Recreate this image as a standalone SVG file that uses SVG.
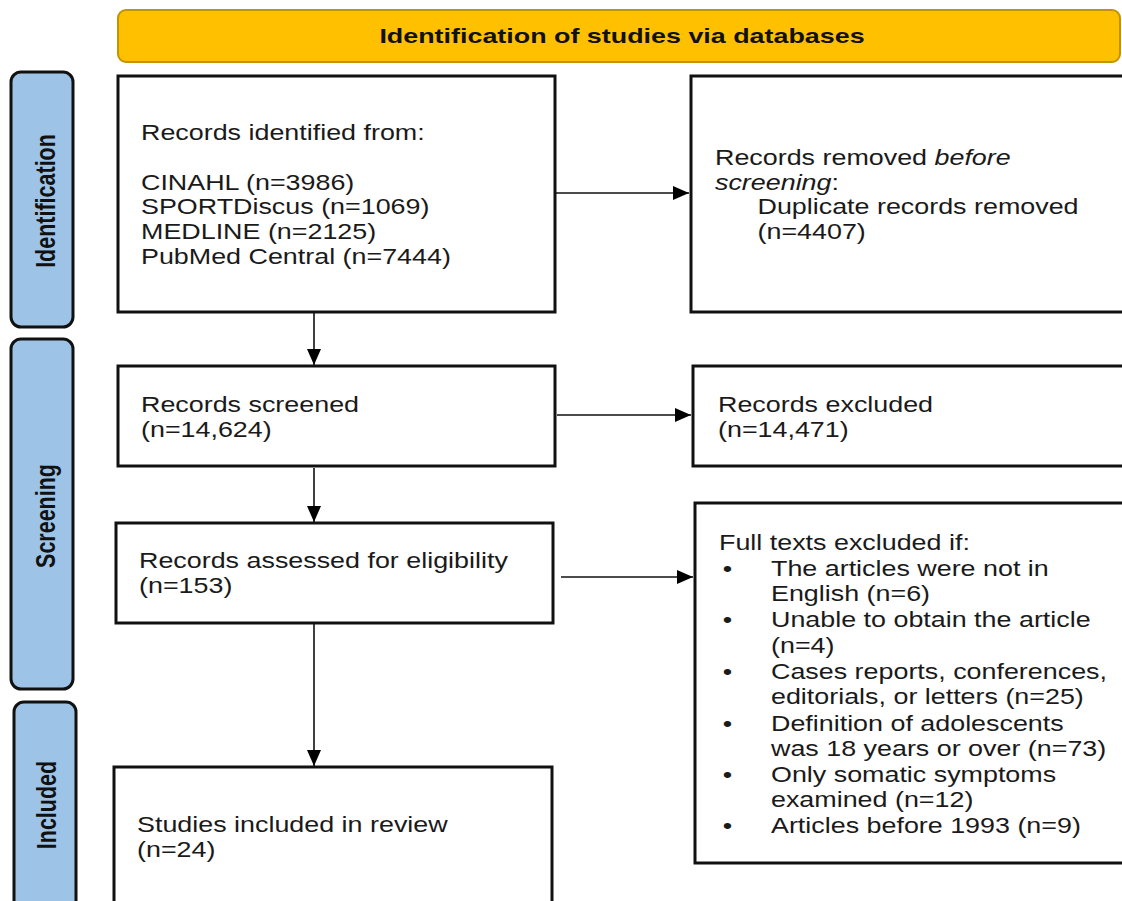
<svg xmlns="http://www.w3.org/2000/svg" width="1122" height="901" viewBox="0 0 1122 901">
  <defs>
    <marker id="arr" viewBox="0 0 16 14" refX="16" refY="7" markerWidth="16" markerHeight="14" markerUnits="userSpaceOnUse" orient="auto">
      <path d="M0,0 L16,7 L0,14 Z" fill="#000"/>
    </marker>
    <style>
      .box { fill: #fff; stroke: #111; stroke-width: 3; }
      .bar { fill: #9DC3E6; stroke: #111; stroke-width: 3; }
      .banner { fill: #FFC000; stroke: #C39400; stroke-width: 2; }
      .t { font-family: "Liberation Sans", Arial, sans-serif; font-size: 21.5px; fill: #1a1a1a; }
      .b { font-family: "Liberation Sans", Arial, sans-serif; font-size: 21px; font-weight: bold; fill: #111; }
      .conn { stroke: #111; stroke-width: 1.6; fill: none; }
    </style>
  </defs>
  <rect width="1122" height="901" fill="#fff"/>

  <g id="banner">
    <rect class="banner" x="118" y="10" width="1002" height="52" rx="8"/>
    <text class="b" text-anchor="middle" transform="translate(622,43) scale(1.28,1)">Identification of studies via databases</text>
  </g>

  <g id="bar-identification">
    <rect class="bar" x="11" y="72" width="62" height="255" rx="10"/>
    <text class="b" text-anchor="middle" style="font-size:21.5px" transform="translate(55,201) scale(1.3,1) rotate(-90)">Identification</text>
  </g>
  <g id="bar-screening">
    <rect class="bar" x="11" y="339" width="62" height="350" rx="10"/>
    <text class="b" text-anchor="middle" style="font-size:21.5px" transform="translate(55,516) scale(1.3,1) rotate(-90)">Screening</text>
  </g>
  <g id="bar-included">
    <rect class="bar" x="14" y="702" width="62" height="220" rx="10"/>
    <text class="b" text-anchor="middle" style="font-size:21.5px" transform="translate(56,805) scale(1.3,1) rotate(-90)">Included</text>
  </g>

  <g id="records-identified">
    <rect class="box" x="118" y="76" width="437" height="236"/>
    <text class="t" transform="translate(141,0) scale(1.25,1)">
      <tspan x="0" y="140">Records identified from:</tspan>
      <tspan x="0" y="190">CINAHL (n=3986)</tspan>
      <tspan x="0" y="214">SPORTDiscus (n=1069)</tspan>
      <tspan x="0" y="239">MEDLINE (n=2125)</tspan>
      <tspan x="0" y="264">PubMed Central (n=7444)</tspan>
    </text>
  </g>

  <g id="records-removed">
    <rect class="box" x="691" y="76" width="445" height="236"/>
    <text class="t" transform="translate(715,0) scale(1.25,1)">
      <tspan x="0" y="165">Records removed <tspan font-style="italic">before</tspan></tspan>
      <tspan x="0" y="190"><tspan font-style="italic">screening</tspan>:</tspan>
      <tspan x="34" y="214">Duplicate records removed</tspan>
      <tspan x="34" y="239">(n=4407)</tspan>
    </text>
  </g>

  <g id="records-screened">
    <rect class="box" x="118" y="366" width="437" height="100"/>
    <text class="t" transform="translate(141,0) scale(1.25,1)">
      <tspan x="0" y="412">Records screened</tspan>
      <tspan x="0" y="437">(n=14,624)</tspan>
    </text>
  </g>

  <g id="records-excluded">
    <rect class="box" x="693" y="366" width="445" height="100"/>
    <text class="t" transform="translate(718,0) scale(1.25,1)">
      <tspan x="0" y="412">Records excluded</tspan>
      <tspan x="0" y="437">(n=14,471)</tspan>
    </text>
  </g>

  <g id="records-assessed">
    <rect class="box" x="116" y="523" width="437" height="100"/>
    <text class="t" transform="translate(139,0) scale(1.25,1)">
      <tspan x="0" y="568">Records assessed for eligibility</tspan>
      <tspan x="0" y="593">(n=153)</tspan>
    </text>
  </g>

  <g id="full-texts-excluded">
    <rect class="box" x="695" y="503" width="445" height="360"/>
    <text class="t" transform="translate(719,0) scale(1.25,1)">
      <tspan x="0" y="550">Full texts excluded if:</tspan>
      <tspan x="3" y="576">•</tspan><tspan x="41.6" y="576">The articles were not in</tspan>
      <tspan x="41.6" y="601">English (n=6)</tspan>
      <tspan x="3" y="627">•</tspan><tspan x="41.6" y="627">Unable to obtain the article</tspan>
      <tspan x="41.6" y="653">(n=4)</tspan>
      <tspan x="3" y="679">•</tspan><tspan x="41.6" y="679">Cases reports, conferences,</tspan>
      <tspan x="41.6" y="704">editorials, or letters (n=25)</tspan>
      <tspan x="3" y="731">•</tspan><tspan x="41.6" y="731">Definition of adolescents</tspan>
      <tspan x="41.6" y="756">was 18 years or over (n=73)</tspan>
      <tspan x="3" y="782">•</tspan><tspan x="41.6" y="782">Only somatic symptoms</tspan>
      <tspan x="41.6" y="807">examined (n=12)</tspan>
      <tspan x="3" y="833">•</tspan><tspan x="41.6" y="833">Articles before 1993 (n=9)</tspan>
    </text>
  </g>

  <g id="studies-included">
    <rect class="box" x="114" y="767" width="438" height="160"/>
    <text class="t" transform="translate(137,0) scale(1.25,1)">
      <tspan x="0" y="832">Studies included in review</tspan>
      <tspan x="0" y="857">(n=24)</tspan>
    </text>
  </g>

  <g id="connectors">
    <line class="conn" x1="314" y1="312" x2="314" y2="365" marker-end="url(#arr)"/>
    <line class="conn" x1="314" y1="468" x2="314" y2="522" marker-end="url(#arr)"/>
    <line class="conn" x1="314" y1="623" x2="314" y2="766" marker-end="url(#arr)"/>
    <line class="conn" x1="556" y1="193" x2="689" y2="193" marker-end="url(#arr)"/>
    <line class="conn" x1="557" y1="415" x2="691" y2="415" marker-end="url(#arr)"/>
    <line class="conn" x1="561" y1="577" x2="693" y2="577" marker-end="url(#arr)"/>
  </g>
</svg>
